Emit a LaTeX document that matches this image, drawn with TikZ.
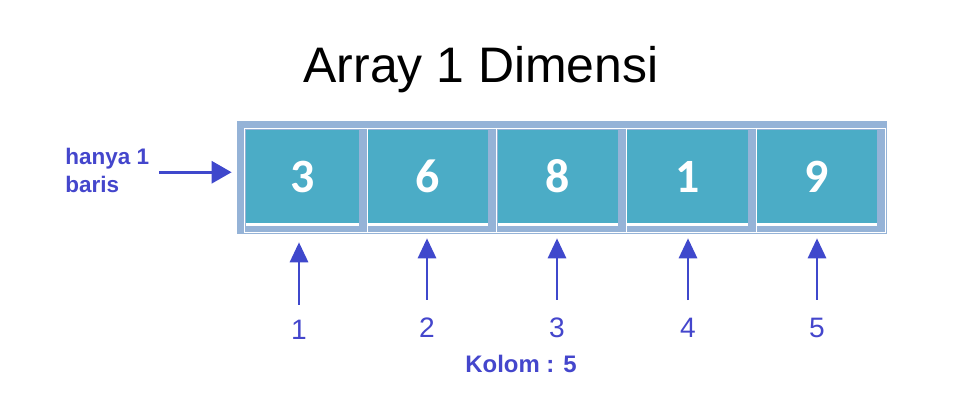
\documentclass[tikz,border=0pt]{standalone}
\usepackage{fontspec}
\setmainfont{Liberation Sans}
\newfontfamily\digitfont{Carlito}
\usetikzlibrary{arrows.meta,positioning}

\definecolor{cellteal}{HTML}{4BACC6}
\definecolor{framegrey}{HTML}{95B3D7}
\definecolor{notebl}{HTML}{4446CC}
\definecolor{arrowbl}{HTML}{3F48CC}

\begin{document}
\begin{tikzpicture}[
  x=0.025cm,
  y=-0.025cm,
  array frame/.style={
    fill=framegrey,
    draw=none,
    minimum width=16.25cm,
    minimum height=2.825cm,
    inner sep=0pt
  },
  array cell/.style={
    fill=cellteal,
    draw=none,
    text=white,
    minimum width=3cm,
    minimum height=2.325cm,
    inner sep=0pt,
    font=\digitfont\bfseries\fontsize{34}{34}\selectfont
  },
  cell line/.style={
    draw=white,
    line width=0.6pt
  },
  cell underline/.style={
    draw=white,
    line width=1.5pt
  },
  flow arrow/.style={
    -{Triangle[length=0.5cm,width=0.55cm]},
    draw=arrowbl,
    line width=2.1pt
  },
  index arrow/.style={
    -{Triangle[length=0.5cm,width=0.45cm]},
    draw=arrowbl,
    line width=2.1pt
  },
  index label/.style={
    text=notebl,
    inner sep=0pt,
    font=\fontsize{20}{20}\selectfont
  }
]

\useasboundingbox (0,0) rectangle (969,405);

% title
\node[anchor=base,inner sep=0pt,font=\fontsize{35.5}{36}\selectfont]
  (title) at (481,83) {Array 1 Dimensi};

% the array
\node[array frame] (array-frame) at (562,177.5) {};
\draw[cell line] (244,128) rectangle (885,232);
\draw[cell line] (367,128) -- (367,232);
\draw[cell line] (496,128) -- (496,232);
\draw[cell line] (626,128) -- (626,232);
\draw[cell line] (756,128) -- (756,232);

\node[array cell,minimum width=2.825cm] (cell-1) at (302.5,176.5) {3};
\node[array cell] (cell-2) at (428,176.5) {6};
\node[array cell] (cell-3) at (558,176.5) {8};
\node[array cell,minimum width=3.025cm] (cell-4) at (687.5,176.5) {1};
\node[array cell] (cell-5) at (817,176.5) {9};

\draw[cell underline] ([yshift=-0.03cm]cell-1.south west) -- ([yshift=-0.03cm]cell-1.south east);
\draw[cell underline] ([yshift=-0.03cm]cell-2.south west) -- ([yshift=-0.03cm]cell-2.south east);
\draw[cell underline] ([yshift=-0.03cm]cell-3.south west) -- ([yshift=-0.03cm]cell-3.south east);
\draw[cell underline] ([yshift=-0.03cm]cell-4.south west) -- ([yshift=-0.03cm]cell-4.south east);
\draw[cell underline] ([yshift=-0.03cm]cell-5.south west) -- ([yshift=-0.03cm]cell-5.south east);

% row note
\node[anchor=north west,align=left,inner sep=0pt,text=notebl,
      font=\bfseries\fontsize{16}{19.5}\selectfont]
  (row-note) at (65,148) {hanya 1\\baris};
\draw[flow arrow] ([shift={(10,2)}]row-note.east) --
  ([shift={(-5,2)}]row-note.east -| array-frame.west);

% column indices
\node[index label] (index-1) at (299,330) {1};
\node[index label] (index-2) at (427,328) {2};
\node[index label] (index-3) at (557,328) {3};
\node[index label] (index-4) at (688,328) {4};
\node[index label] (index-5) at (817,328) {5};

\draw[index arrow,shorten <=0.38cm,shorten >=0.2cm] (index-1.north) -- (index-1.north |- array-frame.south);
\draw[index arrow,shorten <=0.45cm,shorten >=0.1cm] (index-2.north) -- (index-2.north |- array-frame.south);
\draw[index arrow,shorten <=0.45cm,shorten >=0.1cm] (index-3.north) -- (index-3.north |- array-frame.south);
\draw[index arrow,shorten <=0.45cm,shorten >=0.1cm] (index-4.north) -- (index-4.north |- array-frame.south);
\draw[index arrow,shorten <=0.45cm,shorten >=0.1cm] (index-5.north) -- (index-5.north |- array-frame.south);

\node[text=notebl,inner sep=0pt,font=\bfseries\fontsize{17}{17}\selectfont]
  (column-count) at (521,364) {Kolom : 5};

\end{tikzpicture}
\end{document}
